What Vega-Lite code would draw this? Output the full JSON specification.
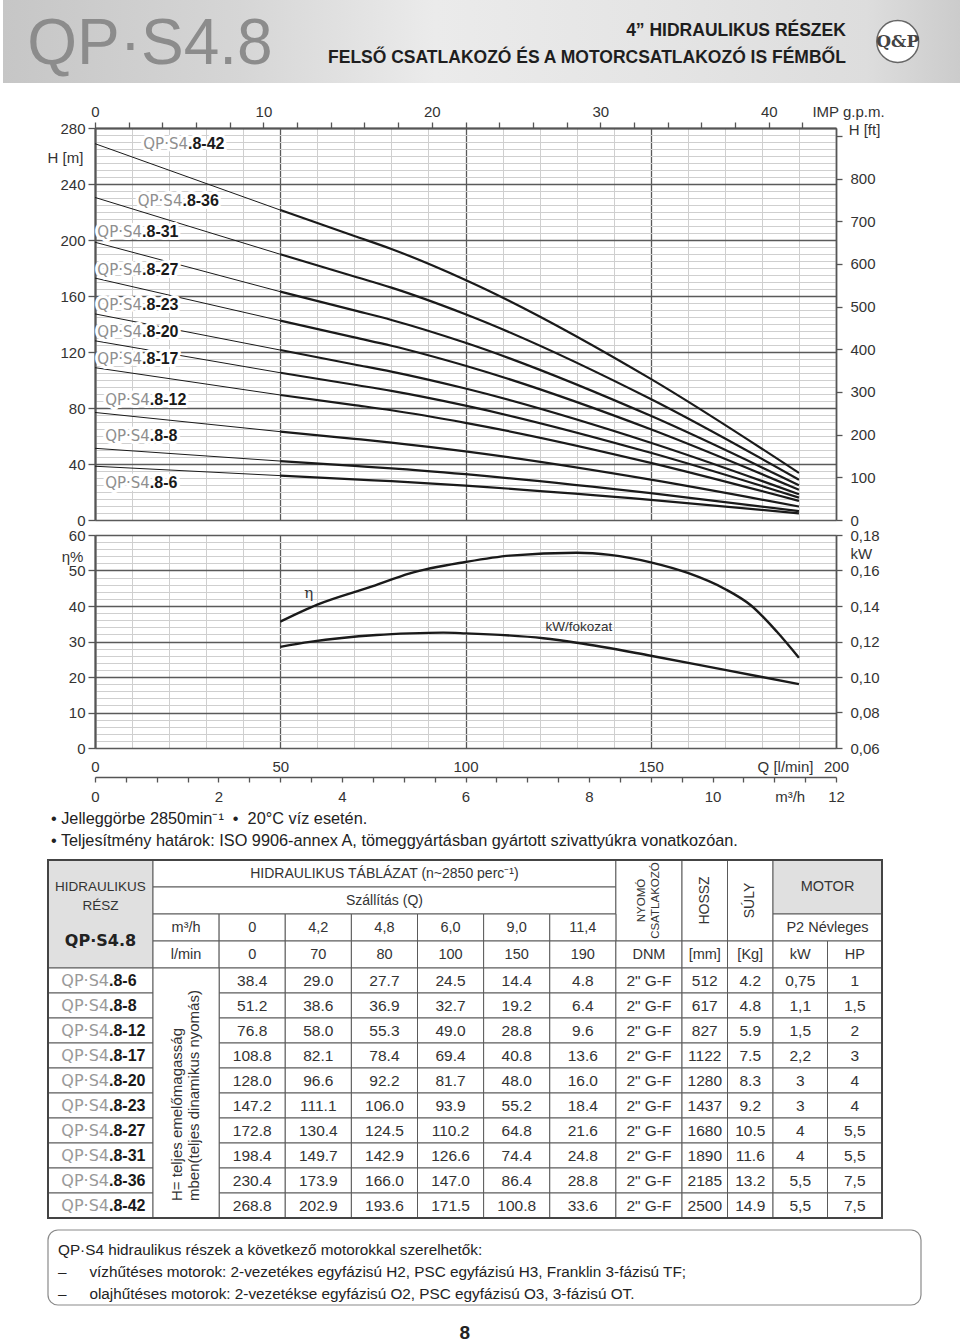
{
"$schema":"https://vega.github.io/schema/vega-lite/v6.json",
"padding":0,
"autosize":{"type":"pad"},
"background":"white",
"bounds":"flush",
"spacing":0,
"config":{
 "view":{"stroke":null},
 "font":"Liberation Sans",
 "axis":{"labelFont":"Liberation Sans","labelFontSize":15,"labelColor":"#333333","titleFont":"Liberation Sans","titleFontSize":15,"titleFontWeight":"normal","titleColor":"#333333","labelOverlap":false,"labelFlush":false,"domainColor":"#555555","tickColor":"#555555"}
},
"datasets":{
 "curves":[
  {"model":"8-6","q":0,"h":38.4},{"model":"8-6","q":50,"h":31.7},{"model":"8-6","q":70,"h":29.0},{"model":"8-6","q":80,"h":27.7},{"model":"8-6","q":100,"h":24.5},{"model":"8-6","q":150,"h":14.4},{"model":"8-6","q":190,"h":4.8},
  {"model":"8-8","q":0,"h":51.2},{"model":"8-8","q":50,"h":42.1},{"model":"8-8","q":70,"h":38.6},{"model":"8-8","q":80,"h":36.9},{"model":"8-8","q":100,"h":32.7},{"model":"8-8","q":150,"h":19.2},{"model":"8-8","q":190,"h":6.4},
  {"model":"8-12","q":0,"h":76.8},{"model":"8-12","q":50,"h":63.1},{"model":"8-12","q":70,"h":58.0},{"model":"8-12","q":80,"h":55.3},{"model":"8-12","q":100,"h":49.0},{"model":"8-12","q":150,"h":28.8},{"model":"8-12","q":190,"h":9.6},
  {"model":"8-17","q":0,"h":108.8},{"model":"8-17","q":50,"h":89.3},{"model":"8-17","q":70,"h":82.1},{"model":"8-17","q":80,"h":78.4},{"model":"8-17","q":100,"h":69.4},{"model":"8-17","q":150,"h":40.8},{"model":"8-17","q":190,"h":13.6},
  {"model":"8-20","q":0,"h":128.0},{"model":"8-20","q":50,"h":105.2},{"model":"8-20","q":70,"h":96.6},{"model":"8-20","q":80,"h":92.2},{"model":"8-20","q":100,"h":81.7},{"model":"8-20","q":150,"h":48.0},{"model":"8-20","q":190,"h":16.0},
  {"model":"8-23","q":0,"h":147.2},{"model":"8-23","q":50,"h":121.4},{"model":"8-23","q":70,"h":111.1},{"model":"8-23","q":80,"h":106.0},{"model":"8-23","q":100,"h":93.9},{"model":"8-23","q":150,"h":55.2},{"model":"8-23","q":190,"h":18.4},
  {"model":"8-27","q":0,"h":172.8},{"model":"8-27","q":50,"h":142.4},{"model":"8-27","q":70,"h":130.4},{"model":"8-27","q":80,"h":124.5},{"model":"8-27","q":100,"h":110.2},{"model":"8-27","q":150,"h":64.8},{"model":"8-27","q":190,"h":21.6},
  {"model":"8-31","q":0,"h":198.4},{"model":"8-31","q":50,"h":163.1},{"model":"8-31","q":70,"h":149.7},{"model":"8-31","q":80,"h":142.9},{"model":"8-31","q":100,"h":126.6},{"model":"8-31","q":150,"h":74.4},{"model":"8-31","q":190,"h":24.8},
  {"model":"8-36","q":0,"h":230.4},{"model":"8-36","q":50,"h":189.8},{"model":"8-36","q":70,"h":173.9},{"model":"8-36","q":80,"h":166.0},{"model":"8-36","q":100,"h":147.0},{"model":"8-36","q":150,"h":86.4},{"model":"8-36","q":190,"h":28.8},
  {"model":"8-42","q":0,"h":268.8},{"model":"8-42","q":50,"h":221.4},{"model":"8-42","q":70,"h":202.9},{"model":"8-42","q":80,"h":193.6},{"model":"8-42","q":100,"h":171.5},{"model":"8-42","q":150,"h":100.8},{"model":"8-42","q":190,"h":33.6}
 ],
 "models":[
  {"model":"8-6","suf":".8-6","dnm":"2\" G-F","mm":512,"kg":4.2,"kw":"0,75","hp":"1"},
  {"model":"8-8","suf":".8-8","dnm":"2\" G-F","mm":617,"kg":4.8,"kw":"1,1","hp":"1,5"},
  {"model":"8-12","suf":".8-12","dnm":"2\" G-F","mm":827,"kg":5.9,"kw":"1,5","hp":"2"},
  {"model":"8-17","suf":".8-17","dnm":"2\" G-F","mm":1122,"kg":7.5,"kw":"2,2","hp":"3"},
  {"model":"8-20","suf":".8-20","dnm":"2\" G-F","mm":1280,"kg":8.3,"kw":"3","hp":"4"},
  {"model":"8-23","suf":".8-23","dnm":"2\" G-F","mm":1437,"kg":9.2,"kw":"3","hp":"4"},
  {"model":"8-27","suf":".8-27","dnm":"2\" G-F","mm":1680,"kg":10.5,"kw":"4","hp":"5,5"},
  {"model":"8-31","suf":".8-31","dnm":"2\" G-F","mm":1890,"kg":11.6,"kw":"4","hp":"5,5"},
  {"model":"8-36","suf":".8-36","dnm":"2\" G-F","mm":2185,"kg":13.2,"kw":"5,5","hp":"7,5"},
  {"model":"8-42","suf":".8-42","dnm":"2\" G-F","mm":2500,"kg":14.9,"kw":"5,5","hp":"7,5"}
 ],
 "hlabels":[
  {"model":"8-42","suf":".8-42","q":25.1,"h":268.6},
  {"model":"8-36","suf":".8-36","q":23.6,"h":227.9},
  {"model":"8-31","suf":".8-31","q":12.7,"h":205.9},
  {"model":"8-27","suf":".8-27","q":12.7,"h":178.6},
  {"model":"8-23","suf":".8-23","q":12.7,"h":153.6},
  {"model":"8-20","suf":".8-20","q":12.7,"h":134.1},
  {"model":"8-17","suf":".8-17","q":12.7,"h":114.8},
  {"model":"8-12","suf":".8-12","q":14.8,"h":85.7},
  {"model":"8-8","suf":".8-8","q":14.8,"h":60.0},
  {"model":"8-6","suf":".8-6","q":14.8,"h":26.6}
 ],
 "eff":[
  {"q":50,"eta":35.6},{"q":60,"eta":40.4},{"q":75,"eta":45.6},{"q":85,"eta":49.2},{"q":100,"eta":52.4},{"q":112,"eta":54.2},{"q":130,"eta":55.0},{"q":139,"eta":54.4},{"q":150,"eta":52.3},{"q":160,"eta":49.3},{"q":170,"eta":44.8},{"q":177,"eta":40.2},{"q":184,"eta":32.8},{"q":190,"eta":25.4}
 ],
 "kw":[
  {"q":50,"kw":0.117},{"q":58,"kw":0.1198},{"q":76,"kw":0.1237},{"q":85,"kw":0.1246},{"q":94,"kw":0.125},{"q":100,"kw":0.1246},{"q":121,"kw":0.1218},{"q":130,"kw":0.1193},{"q":150,"kw":0.112},{"q":170,"kw":0.104},{"q":190,"kw":0.096}
 ],
 "efflabels":[
  {"q":57.7,"v":43.7,"t":"η"},
  {"q":130.6,"v":34.2,"t":"kW/fokozat"}
 ]
},
"vconcat":[
 {"width":960,"height":83,"data":{"values":[{}]},"layer":[
  {"mark":{"type":"rect","fill":{"gradient":"linear","x1":0,"y1":0,"x2":1,"y2":0,"stops":[{"offset":0,"color":"#c6c6c6"},{"offset":0.25,"color":"#d6d6d6"},{"offset":0.45,"color":"#ebebeb"},{"offset":0.7,"color":"#e4e4e4"},{"offset":0.9,"color":"#dddddd"},{"offset":1,"color":"#cbcbcb"}]}},"encoding":{}},
  {"mark":{"type":"text","text":"QP·S4.8","font":"Liberation Sans","fontSize":64,"fill":"#8c8c8c","dy":3},
   "encoding":{"x":{"datum":0.153,"type":"quantitative","scale":{"domain":[0,1]},"axis":null}}},
  {"mark":{"type":"text","text":["4” HIDRAULIKUS RÉSZEK","FELSŐ CSATLAKOZÓ ÉS A MOTORCSATLAKOZÓ IS FÉMBŐL"],"align":"right","lineHeight":27,"font":"Liberation Sans","fontWeight":"bold","fontSize":17.5,"fill":"#1e1e1e","dy":-10.5},
   "encoding":{"x":{"datum":0.878,"type":"quantitative"}}},
  {"mark":{"type":"point","shape":"circle","size":1750,"filled":true,"fill":"white","stroke":"#666666","strokeWidth":1.5,"opacity":1},
   "encoding":{"x":{"datum":0.932,"type":"quantitative"}}},
  {"mark":{"type":"text","text":"Q&P","font":"DejaVu Serif","fontWeight":"bold","fontSize":17,"fill":"#444444"},
   "encoding":{"x":{"datum":0.932,"type":"quantitative"}}}
 ]},
 {"width":1,"height":45,"data":{"values":[{}]},"mark":{"type":"point","opacity":0}},
 {"width":833,"height":392,
  "layer":[
   {"data":{"name":"curves"},"transform":[{"filter":"datum.q <= 50"}],
    "mark":{"type":"line","interpolate":"monotone","stroke":"#1a1a1a","strokeWidth":1},
    "encoding":{
     "x":{"field":"q","type":"quantitative","scale":{"domain":[0,200],"range":[92,833],"nice":false,"zero":false},
      "axis":{"orient":"bottom","values":[0,10,20,30,40,50,60,70,80,90,100,110,120,130,140,150,160,170,180,190,200],"labels":false,"ticks":false,"domain":false,"title":null,"grid":true,
       "gridColor":{"condition":{"test":"datum.value % 50 === 0","value":"#5a5a5a"},"value":"#cfcfcf"},
       "gridWidth":{"condition":{"test":"datum.value % 50 === 0","value":1.3},"value":1}}},
     "y":{"field":"h","type":"quantitative","scale":{"domain":[0,280],"nice":false,"zero":false},
      "axis":{"orient":"left","values":[0,5,10,15,20,25,30,35,40,45,50,55,60,65,70,75,80,85,90,95,100,105,110,115,120,125,130,135,140,145,150,155,160,165,170,175,180,185,190,195,200,205,210,215,220,225,230,235,240,245,250,255,260,265,270,275,280],
       "labels":false,"ticks":false,"domain":false,"title":null,"grid":true,
       "gridColor":{"condition":{"test":"datum.value % 40 === 0","value":"#5a5a5a"},"value":"#cfcfcf"},
       "gridWidth":{"condition":{"test":"datum.value % 40 === 0","value":1.3},"value":1}}},
     "detail":{"field":"model","type":"nominal"}}},
   {"data":{"name":"curves"},"transform":[{"filter":"datum.q >= 50"}],
    "mark":{"type":"line","interpolate":"monotone","stroke":"#1a1a1a","strokeWidth":2.2},
    "encoding":{
     "x":{"field":"q","type":"quantitative","scale":{"domain":[0,200],"range":[92,833],"nice":false,"zero":false},"axis":null},
     "y":{"field":"h","type":"quantitative","scale":{"domain":[0,280],"nice":false,"zero":false},
      "axis":{"orient":"left","offset":-92,"values":[0,40,80,120,160,200,240,280],"tickSize":7,"tickWidth":1.3,"labelPadding":3,"domainWidth":2.2,"grid":false,
       "title":"H [m]","titleAngle":0,"titleX":-30,"titleY":29,"titleAlign":"center","titleBaseline":"middle"}},
     "detail":{"field":"model","type":"nominal"}}},
   {"data":{"name":"hlabels"},
    "mark":{"type":"text","text":"QP·S4","align":"right","font":"DejaVu Sans","fontSize":15,"fill":"white","stroke":"white","strokeWidth":6,"strokeJoin":"round"},
    "encoding":{
     "x":{"field":"q","type":"quantitative","scale":{"domain":[0,200],"range":[92,833],"nice":false,"zero":false},
      "axis":{"orient":"top","values":[0,9.09218,18.18436,27.27654,36.36872,45.4609,54.55308,63.64526,72.73744,81.82962,90.9218,100.01398,109.10616,118.19834,127.29052,136.3827,145.47488,154.56706,163.65924,172.75142,181.8436,190.93578],
       "labelExpr":"round(datum.value/4.54609) % 10 === 0 ? format(round(datum.value/4.54609),'d') : ''",
       "tickSize":6,"tickWidth":1.3,"labelPadding":3,"domainWidth":2.2,"grid":false,
       "title":"IMP g.p.m.","titleAngle":0,"titleX":845,"titleY":-17,"titleAlign":"center","titleBaseline":"middle"}},
     "y":{"field":"h","type":"quantitative","scale":{"domain":[0,280],"nice":false,"zero":false},
      "axis":{"orient":"right","values":[0,30.48,60.96,91.44,121.92,152.4,182.88,213.36,243.84,274.32],
       "labelExpr":"datum.value > 270 ? '' : format(round(datum.value/0.3048),'d')",
       "tickSize":6,"tickWidth":1.3,"labelPadding":8,"domainWidth":1.6,"grid":false,
       "title":"H [ft]","titleAngle":0,"titleX":28,"titleY":1,"titleAlign":"center","titleBaseline":"middle"}}}},
   {"data":{"name":"hlabels"},
    "mark":{"type":"text","align":"left","font":"Liberation Sans","fontWeight":"bold","fontSize":16,"fill":"white","stroke":"white","strokeWidth":6,"strokeJoin":"round"},
    "encoding":{
     "x":{"field":"q","type":"quantitative","scale":{"domain":[0,200],"range":[92,833],"nice":false,"zero":false},"axis":null},
     "y":{"field":"h","type":"quantitative","scale":{"domain":[0,280],"nice":false,"zero":false},"axis":null},
     "text":{"field":"suf"}}},
   {"data":{"name":"hlabels"},
    "mark":{"type":"text","text":"QP·S4","align":"right","font":"DejaVu Sans","fontSize":15,"fill":"#8f8f8f"},
    "encoding":{
     "x":{"field":"q","type":"quantitative","scale":{"domain":[0,200],"range":[92,833],"nice":false,"zero":false},"axis":null},
     "y":{"field":"h","type":"quantitative","scale":{"domain":[0,280],"nice":false,"zero":false},"axis":null}}},
   {"data":{"name":"hlabels"},
    "mark":{"type":"text","align":"left","font":"Liberation Sans","fontWeight":"bold","fontSize":16,"fill":"#1a1a1a"},
    "encoding":{
     "x":{"field":"q","type":"quantitative","scale":{"domain":[0,200],"range":[92,833],"nice":false,"zero":false},"axis":null},
     "y":{"field":"h","type":"quantitative","scale":{"domain":[0,280],"nice":false,"zero":false},"axis":null},
     "text":{"field":"suf"}}}
  ],
  "resolve":{"axis":{"x":"independent","y":"independent"}}
 },
 {"width":1,"height":15,"data":{"values":[{}]},"mark":{"type":"point","opacity":0}},
 {"width":833,"height":213,
  "layer":[
   {"data":{"name":"eff"},
    "mark":{"type":"line","interpolate":"monotone","stroke":"#1a1a1a","strokeWidth":2.4},
    "encoding":{
     "x":{"field":"q","type":"quantitative","scale":{"domain":[0,200],"range":[92,833],"nice":false,"zero":false},
      "axis":{"orient":"bottom","values":[0,10,20,30,40,50,60,70,80,90,100,110,120,130,140,150,160,170,180,190,200],
       "labelExpr":"datum.value % 50 === 0 ? datum.label : ''","ticks":true,"tickSize":0,"labelPadding":11,"domain":false,"grid":true,
       "gridColor":{"condition":{"test":"datum.value % 50 === 0","value":"#5a5a5a"},"value":"#cfcfcf"},
       "gridWidth":{"condition":{"test":"datum.value % 50 === 0","value":1.3},"value":1},
       "title":"Q [l/min]","titleAngle":0,"titleX":782,"titleY":18,"titleAlign":"center","titleBaseline":"middle"}},
     "y":{"field":"eta","type":"quantitative","scale":{"domain":[0,60],"nice":false,"zero":false},
      "axis":{"orient":"left","values":[0,2,4,6,8,10,12,14,16,18,20,22,24,26,28,30,32,34,36,38,40,42,44,46,48,50,52,54,56,58,60],
       "labels":false,"ticks":false,"domain":false,"title":null,"grid":true,
       "gridColor":{"condition":{"test":"datum.value % 10 === 0","value":"#5a5a5a"},"value":"#cfcfcf"},
       "gridWidth":{"condition":{"test":"datum.value % 10 === 0","value":1.3},"value":1}}}}},
   {"data":{"name":"kw"},
    "mark":{"type":"line","interpolate":"monotone","stroke":"#1a1a1a","strokeWidth":2.4},
    "encoding":{
     "x":{"field":"q","type":"quantitative","scale":{"domain":[0,200],"range":[92,833],"nice":false,"zero":false},"axis":null},
     "y":{"field":"kw","type":"quantitative","scale":{"domain":[0.06,0.18],"nice":false,"zero":false},
      "axis":{"orient":"right","values":[0.06,0.08,0.1,0.12,0.14,0.16,0.18],
       "labelExpr":"replace(format(datum.value,'.2f'),'.',',')","tickSize":6,"tickWidth":1.3,"labelPadding":8,"domainWidth":1.6,"grid":false,
       "title":"kW","titleAngle":0,"titleX":14,"titleY":18,"titleAlign":"left","titleBaseline":"middle"}}}},
   {"data":{"name":"efflabels"},"transform":[{"filter":"datum.t === 'η'"}],
    "mark":{"type":"text","font":"DejaVu Serif","fontSize":15,"fill":"#333333"},
    "encoding":{
     "x":{"field":"q","type":"quantitative","scale":{"domain":[0,200],"range":[92,833],"nice":false,"zero":false},
      "axis":{"orient":"bottom","offset":29,"values":[0,8.333333,16.666667,25,33.333333,41.666667,50,58.333333,66.666667,75,83.333333,91.666667,100,108.333333,116.666667,125,133.333333,141.666667,150,158.333333,166.666667,175,183.333333,191.666667,200],
       "labelExpr":"abs(datum.value/16.666667 - round(datum.value/16.666667)) < 0.01 && round(datum.value/16.666667) % 2 === 0 ? format(round(datum.value/16.666667),'d') : ''",
       "tickSize":5,"tickWidth":1.3,"labelPadding":7,"domainWidth":1.6,"grid":false,
       "title":"m³/h","titleAngle":0,"titleX":786.7,"titleY":19,"titleAlign":"center","titleBaseline":"middle"}},
     "y":{"field":"v","type":"quantitative","scale":{"domain":[0,60],"nice":false,"zero":false},
      "axis":{"orient":"left","offset":-92,"values":[0,10,20,30,40,50,60],"tickSize":7,"tickWidth":1.3,"labelPadding":3,"domainWidth":2.2,"grid":false,
       "title":"η%","titleAngle":0,"titleX":-23,"titleY":21,"titleAlign":"center","titleBaseline":"middle"}},
     "text":{"field":"t"}}},
   {"data":{"name":"efflabels"},"transform":[{"filter":"datum.t !== 'η'"}],
    "mark":{"type":"text","font":"Liberation Sans","fontSize":13.5,"fill":"#333333"},
    "encoding":{
     "x":{"field":"q","type":"quantitative","scale":{"domain":[0,200],"range":[92,833],"nice":false,"zero":false},"axis":null},
     "y":{"field":"v","type":"quantitative","scale":{"domain":[0,60],"nice":false,"zero":false},"axis":null},
     "text":{"field":"t"}}}
  ],
  "resolve":{"scale":{"y":"independent"},"axis":{"x":"independent","y":"independent"}}
 },
 {"width":1,"height":60,"data":{"values":[{}]},"mark":{"type":"point","opacity":0}},
 {"width":960,"height":44,
  "data":{"values":[{"line":1,"t":"• Jelleggörbe 2850min⁻¹\u00a0 •\u00a0 20°C víz esetén."},{"line":2,"t":"• Teljesítmény határok: ISO 9906-annex A, tömeggyártásban gyártott szivattyúkra vonatkozóan."}]},
  "mark":{"type":"text","align":"left","font":"Liberation Sans","fontSize":16.3,"fill":"#222222"},
  "encoding":{
   "x":{"datum":0.05,"type":"quantitative","scale":{"domain":[0,1]},"axis":null},
   "y":{"field":"line","type":"ordinal","axis":null},
   "text":{"field":"t"}}},
 {"width":1,"height":8,"data":{"values":[{}]},"mark":{"type":"point","opacity":0}},
 {"width":960,"height":358,
  "layer":[
   {"data":{"values":[{}]},"layer":[
    {"mark":{"type":"rect","fill":"#e0e0e0","stroke":"#5a5a5a","strokeWidth":1},
     "encoding":{"x":{"datum":"m","type":"nominal","scale":{"type":"band","domain":["m"],"range":[45,150],"paddingInner":0,"paddingOuter":0},"axis":null},
                 "y":{"datum":"m","type":"nominal","scale":{"type":"band","domain":["m"],"range":[0,108],"paddingInner":0,"paddingOuter":0},"axis":null}}},
    {"mark":{"type":"text","text":["HIDRAULIKUS","RÉSZ"],"lineHeight":19,"dy":-27,"font":"Liberation Sans","fontSize":13.5,"fill":"#333333"},
     "encoding":{"x":{"datum":"m","type":"nominal"},"y":{"datum":"m","type":"nominal"}}},
    {"mark":{"type":"text","text":"QP·S4.8","dy":27,"font":"DejaVu Sans","fontWeight":"bold","fontSize":16,"fill":"#222222"},
     "encoding":{"x":{"datum":"m","type":"nominal"},"y":{"datum":"m","type":"nominal"}}}
   ]},
   {"data":{"values":[{"r":"h1","t":"HIDRAULIKUS TÁBLÁZAT (n~2850 perc⁻¹)"},{"r":"h2","t":"Szállítás (Q)"}]},"layer":[
    {"mark":{"type":"rect","fill":"white","stroke":"#5a5a5a","strokeWidth":1},
     "encoding":{"x":{"datum":"m","type":"nominal","scale":{"type":"band","domain":["m"],"range":[150,612.875],"paddingInner":0,"paddingOuter":0},"axis":null},
                 "y":{"field":"r","type":"nominal","scale":{"type":"band","domain":["h1","h2"],"range":[0,54],"paddingInner":0,"paddingOuter":0},"axis":null}}},
    {"mark":{"type":"text","font":"Liberation Sans","fontSize":14,"fill":"#333333"},
     "encoding":{"x":{"datum":"m","type":"nominal"},"y":{"field":"r","type":"nominal"},"text":{"field":"t"}}}
   ]},
   {"data":{"values":[{"t":["NYOMÓ","CSATLAKOZÓ"]}]},"layer":[
    {"mark":{"type":"rect","fill":"white","stroke":"#5a5a5a","strokeWidth":1},
     "encoding":{"x":{"datum":"m","type":"nominal","scale":{"type":"band","domain":["m"],"range":[612.875,679],"paddingInner":0,"paddingOuter":0},"axis":null},
                 "y":{"datum":"m","type":"nominal","scale":{"type":"band","domain":["m"],"range":[0,81],"paddingInner":0,"paddingOuter":0},"axis":null}}},
    {"mark":{"type":"text","angle":270,"lineHeight":14,"dy":-7,"font":"Liberation Sans","fontSize":11.5,"fill":"#333333"},
     "encoding":{"x":{"datum":"m","type":"nominal"},"y":{"datum":"m","type":"nominal"},"text":{"field":"t"}}}
   ]},
   {"data":{"values":[
     {"c":"H","r":"h3","t":"m³/h"},{"c":"0","r":"h3","t":"0"},{"c":"70","r":"h3","t":"4,2"},{"c":"80","r":"h3","t":"4,8"},{"c":"100","r":"h3","t":"6,0"},{"c":"150","r":"h3","t":"9,0"},{"c":"190","r":"h3","t":"11,4"},
     {"c":"H","r":"h4","t":"l/min"},{"c":"0","r":"h4","t":"0"},{"c":"70","r":"h4","t":"70"},{"c":"80","r":"h4","t":"80"},{"c":"100","r":"h4","t":"100"},{"c":"150","r":"h4","t":"150"},{"c":"190","r":"h4","t":"190"},{"c":"DNM","r":"h4","t":"DNM"}]},
    "layer":[
     {"mark":{"type":"rect","fill":"white","stroke":"#5a5a5a","strokeWidth":1},
      "encoding":{
       "x":{"field":"c","type":"nominal","scale":{"type":"band","domain":["H","0","70","80","100","150","190","DNM"],"range":[150,679],"paddingInner":0,"paddingOuter":0},"axis":null},
       "y":{"field":"r","type":"nominal","scale":{"type":"band","domain":["h3","h4"],"range":[54,108],"paddingInner":0,"paddingOuter":0},"axis":null}}},
     {"mark":{"type":"text","font":"Liberation Sans","fontSize":14.5,"fill":"#333333"},
      "encoding":{"x":{"field":"c","type":"nominal"},"y":{"field":"r","type":"nominal"},"text":{"field":"t"}}}
    ]},
   {"data":{"values":[{"c":"mm","t":"HOSSZ"},{"c":"kg","t":"SÚLY"}]},"layer":[
    {"mark":{"type":"rect","fill":"white","stroke":"#5a5a5a","strokeWidth":1},
     "encoding":{"x":{"field":"c","type":"nominal","scale":{"type":"band","domain":["mm","kg"],"range":[679,770],"paddingInner":0,"paddingOuter":0},"axis":null},
                 "y":{"datum":"m","type":"nominal","scale":{"type":"band","domain":["m"],"range":[0,81],"paddingInner":0,"paddingOuter":0},"axis":null}}},
    {"mark":{"type":"text","angle":270,"font":"Liberation Sans","fontSize":14,"fill":"#333333"},
     "encoding":{"x":{"field":"c","type":"nominal"},"y":{"datum":"m","type":"nominal"},"text":{"field":"t"}}}
   ]},
   {"data":{"values":[{"c":"mm","t":"[mm]"},{"c":"kg","t":"[Kg]"}]},"layer":[
    {"mark":{"type":"rect","fill":"white","stroke":"#5a5a5a","strokeWidth":1},
     "encoding":{"x":{"field":"c","type":"nominal","scale":{"type":"band","domain":["mm","kg"],"range":[679,770],"paddingInner":0,"paddingOuter":0},"axis":null},
                 "y":{"datum":"m","type":"nominal","scale":{"type":"band","domain":["m"],"range":[81,108],"paddingInner":0,"paddingOuter":0},"axis":null}}},
    {"mark":{"type":"text","font":"Liberation Sans","fontSize":14.5,"fill":"#333333"},
     "encoding":{"x":{"field":"c","type":"nominal"},"y":{"datum":"m","type":"nominal"},"text":{"field":"t"}}}
   ]},
   {"data":{"values":[{"t":"MOTOR"}]},"layer":[
    {"mark":{"type":"rect","fill":"#e0e0e0","stroke":"#5a5a5a","strokeWidth":1},
     "encoding":{"x":{"datum":"m","type":"nominal","scale":{"type":"band","domain":["m"],"range":[770,879],"paddingInner":0,"paddingOuter":0},"axis":null},
                 "y":{"datum":"m","type":"nominal","scale":{"type":"band","domain":["m"],"range":[0,54],"paddingInner":0,"paddingOuter":0},"axis":null}}},
    {"mark":{"type":"text","font":"Liberation Sans","fontSize":14.5,"fill":"#333333"},
     "encoding":{"x":{"datum":"m","type":"nominal"},"y":{"datum":"m","type":"nominal"},"text":{"field":"t"}}}
   ]},
   {"data":{"values":[{"t":"P2 Névleges"}]},"layer":[
    {"mark":{"type":"rect","fill":"white","stroke":"#5a5a5a","strokeWidth":1},
     "encoding":{"x":{"datum":"m","type":"nominal","scale":{"type":"band","domain":["m"],"range":[770,879],"paddingInner":0,"paddingOuter":0},"axis":null},
                 "y":{"datum":"m","type":"nominal","scale":{"type":"band","domain":["m"],"range":[54,81],"paddingInner":0,"paddingOuter":0},"axis":null}}},
    {"mark":{"type":"text","font":"Liberation Sans","fontSize":14.5,"fill":"#333333"},
     "encoding":{"x":{"datum":"m","type":"nominal"},"y":{"datum":"m","type":"nominal"},"text":{"field":"t"}}}
   ]},
   {"data":{"values":[{"c":"kW"},{"c":"HP"}]},"layer":[
    {"mark":{"type":"rect","fill":"white","stroke":"#5a5a5a","strokeWidth":1},
     "encoding":{"x":{"field":"c","type":"nominal","scale":{"type":"band","domain":["kW","HP"],"range":[770,879],"paddingInner":0,"paddingOuter":0},"axis":null},
                 "y":{"datum":"m","type":"nominal","scale":{"type":"band","domain":["m"],"range":[81,108],"paddingInner":0,"paddingOuter":0},"axis":null}}},
    {"mark":{"type":"text","font":"Liberation Sans","fontSize":14.5,"fill":"#333333"},
     "encoding":{"x":{"field":"c","type":"nominal"},"y":{"datum":"m","type":"nominal"},"text":{"field":"c"}}}
   ]},
   {"data":{"name":"models"},"layer":[
    {"mark":{"type":"rect","fill":"white","stroke":"#5a5a5a","strokeWidth":1},
     "encoding":{"x":{"datum":"m","type":"nominal","scale":{"type":"band","domain":["m"],"range":[45,150],"paddingInner":0,"paddingOuter":0},"axis":null},
                 "y":{"field":"model","type":"nominal","scale":{"type":"band","domain":["8-6","8-8","8-12","8-17","8-20","8-23","8-27","8-31","8-36","8-42"],"range":[108,358],"paddingInner":0,"paddingOuter":0},"axis":null}}},
    {"mark":{"type":"text","text":"QP·S4","align":"right","dx":8.5,"font":"DejaVu Sans","fontSize":16,"fill":"#999999"},
     "encoding":{"x":{"datum":"m","type":"nominal"},"y":{"field":"model","type":"nominal"}}},
    {"mark":{"type":"text","align":"left","dx":8.5,"font":"Liberation Sans","fontWeight":"bold","fontSize":16,"fill":"#1a1a1a"},
     "encoding":{"x":{"datum":"m","type":"nominal"},"y":{"field":"model","type":"nominal"},"text":{"field":"suf"}}}
   ]},
   {"layer":[
    {"data":{"name":"curves"},"transform":[{"filter":"datum.q !== 50"}],"layer":[
     {"mark":{"type":"rect","fill":"white","stroke":"#5a5a5a","strokeWidth":1},
      "encoding":{
       "x":{"field":"q","type":"ordinal","scale":{"type":"band","domain":["H",0,70,80,100,150,190,"DNM"],"range":[150,679],"paddingInner":0,"paddingOuter":0},"axis":null},
       "y":{"field":"model","type":"ordinal","scale":{"type":"band","domain":["8-6","8-8","8-12","8-17","8-20","8-23","8-27","8-31","8-36","8-42"],"range":[108,358],"paddingInner":0,"paddingOuter":0},"axis":null}}},
     {"mark":{"type":"text","font":"Liberation Sans","fontSize":15.5,"fill":"#333333"},
      "encoding":{"x":{"field":"q","type":"ordinal"},"y":{"field":"model","type":"ordinal"},"text":{"field":"h","type":"quantitative","format":".1f"}}}
    ]},
    {"data":{"name":"models"},"layer":[
     {"mark":{"type":"rect","fill":"white","stroke":"#5a5a5a","strokeWidth":1},
      "encoding":{"x":{"datum":"DNM","type":"ordinal"},"y":{"field":"model","type":"ordinal"}}},
     {"mark":{"type":"text","font":"Liberation Sans","fontSize":15.5,"fill":"#333333"},
      "encoding":{"x":{"datum":"DNM","type":"ordinal"},"y":{"field":"model","type":"ordinal"},"text":{"field":"dnm"}}}
    ]}
   ]},
   {"data":{"values":[{"t":["H= teljes emelőmagasság","mben(teljes dinamikus nyomás)"]}]},"layer":[
    {"mark":{"type":"rect","fill":"white","stroke":"#5a5a5a","strokeWidth":1},
     "encoding":{"x":{"datum":"m","type":"nominal","scale":{"type":"band","domain":["m"],"range":[150,216.125],"paddingInner":0,"paddingOuter":0},"axis":null},
                 "y":{"datum":"m","type":"nominal","scale":{"type":"band","domain":["m"],"range":[108,358],"paddingInner":0,"paddingOuter":0},"axis":null}}},
    {"mark":{"type":"text","angle":270,"align":"left","dx":-108,"dy":-9,"lineHeight":17,"font":"Liberation Sans","fontSize":15,"fill":"#333333"},
     "encoding":{"x":{"datum":"m","type":"nominal"},"y":{"datum":"m","type":"nominal"},"text":{"field":"t"}}}
   ]},
   {"data":{"name":"models"},"transform":[{"fold":["mm","kg"],"as":["k","v"]}],"layer":[
    {"mark":{"type":"rect","fill":"white","stroke":"#5a5a5a","strokeWidth":1},
     "encoding":{
      "x":{"field":"k","type":"nominal","scale":{"type":"band","domain":["mm","kg"],"range":[679,770],"paddingInner":0,"paddingOuter":0},"axis":null},
      "y":{"field":"model","type":"nominal","scale":{"type":"band","domain":["8-6","8-8","8-12","8-17","8-20","8-23","8-27","8-31","8-36","8-42"],"range":[108,358],"paddingInner":0,"paddingOuter":0},"axis":null}}},
    {"mark":{"type":"text","font":"Liberation Sans","fontSize":15.5,"fill":"#333333"},
     "encoding":{"x":{"field":"k","type":"nominal"},"y":{"field":"model","type":"nominal"},"text":{"field":"v","type":"nominal"}}}
   ]},
   {"data":{"name":"models"},"transform":[{"fold":["kw","hp"],"as":["k","v"]}],"layer":[
    {"mark":{"type":"rect","fill":"white","stroke":"#5a5a5a","strokeWidth":1},
     "encoding":{
      "x":{"field":"k","type":"nominal","scale":{"type":"band","domain":["kw","hp"],"range":[770,879],"paddingInner":0,"paddingOuter":0},"axis":null},
      "y":{"field":"model","type":"nominal","scale":{"type":"band","domain":["8-6","8-8","8-12","8-17","8-20","8-23","8-27","8-31","8-36","8-42"],"range":[108,358],"paddingInner":0,"paddingOuter":0},"axis":null}}},
    {"mark":{"type":"text","font":"Liberation Sans","fontSize":15.5,"fill":"#333333"},
     "encoding":{"x":{"field":"k","type":"nominal"},"y":{"field":"model","type":"nominal"},"text":{"field":"v","type":"nominal"}}}
   ]},
   {"data":{"values":[{}]},
    "mark":{"type":"rect","fill":"white","fillOpacity":0,"stroke":"#444444","strokeWidth":2},
    "encoding":{"x":{"datum":"m","type":"nominal","scale":{"type":"band","domain":["m"],"range":[45,879],"paddingInner":0,"paddingOuter":0},"axis":null},
                "y":{"datum":"m","type":"nominal","scale":{"type":"band","domain":["m"],"range":[0,358],"paddingInner":0,"paddingOuter":0},"axis":null}}}
  ],
  "resolve":{"scale":{"x":"independent","y":"independent"}}
 },
 {"width":1,"height":12,"data":{"values":[{}]},"mark":{"type":"point","opacity":0}},
 {"width":960,"height":75,"data":{"values":[{}]},
  "layer":[
   {"mark":{"type":"rect","fill":"white","stroke":"#8a8a8a","strokeWidth":1.2,"cornerRadius":10},
    "encoding":{"x":{"datum":"box","type":"nominal","scale":{"type":"band","domain":["box"],"range":[45,918],"paddingInner":0,"paddingOuter":0},"axis":null}}},
   {"mark":{"type":"text","align":"left","text":["QP·S4 hidraulikus részek a következő motorokkal szerelhetők:","–\u2003\u2002vízhűtéses motorok: 2-vezetékes egyfázisú H2, PSC egyfázisú H3, Franklin 3-fázisú TF;","–\u2003\u2002olajhűtéses motorok: 2-vezetékse egyfázisú O2, PSC egyfázisú O3, 3-fázisú OT."],"lineHeight":22,"dy":-17.5,"font":"Liberation Sans","fontSize":15.3,"fill":"#222222"},
    "encoding":{"x":{"datum":0.0573,"type":"quantitative","scale":{"domain":[0,1]},"axis":null}}}
  ],
  "resolve":{"scale":{"x":"independent"}}
 },
 {"width":1,"height":15,"data":{"values":[{}]},"mark":{"type":"point","opacity":0}},
 {"width":960,"height":21,"data":{"values":[{}]},"mark":{"type":"text","text":"8","font":"Liberation Sans","fontWeight":"bold","fontSize":19,"fill":"#222222","dy":2},
  "encoding":{"x":{"datum":0.481,"type":"quantitative","scale":{"domain":[0,1]},"axis":null}}}
]
}
